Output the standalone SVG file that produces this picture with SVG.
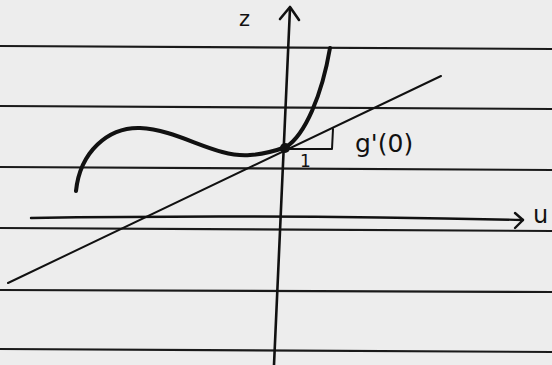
<svg xmlns="http://www.w3.org/2000/svg" width="552" height="365" viewBox="0 0 552 365">
<style>
.rule{stroke:#1a1a1a;stroke-width:2.2;fill:none}
.ink{stroke:#111;fill:none;stroke-linecap:round;stroke-linejoin:round}
.lbl{font-family:"DejaVu Sans","Liberation Sans",sans-serif;fill:#111}
</style>
<rect width="552" height="365" fill="#ededed"/>
<g id="paper-lines">
<path class="rule" d="M0,46 L552,49"/>
<path class="rule" d="M0,106 L552,109"/>
<path class="rule" d="M0,167 L552,170"/>
<path class="rule" d="M0,228 L552,231"/>
<path class="rule" d="M0,290 L552,292"/>
<path class="rule" d="M0,349 L552,352"/>
</g>
<g id="axes">
<path class="ink" stroke-width="2.6" d="M290,8 L274,365"/>
<path class="ink" stroke-width="2.6" d="M280,19 L290,7 L299,20"/>
<path class="ink" stroke-width="2.4" d="M31,218 C150,216 300,215 523,220"/>
<path class="ink" stroke-width="2.4" d="M515,213 L523,220 L515,228"/>
</g>
<g id="tangent">
<path class="ink" stroke-width="2" d="M8,283 L441,76"/>
<path class="ink" stroke-width="2" d="M286,149 L332,149 L333,129"/>
</g>
<g id="curve">
<path class="ink" stroke-width="4" d="M76,191 C80,152 108,127 140,128 C180,130 215,158 250,155 C265,154 275,151 286,147 C305,135 322,95 330,48"/>
<circle cx="285" cy="148" r="5" fill="#111"/>
</g>
<g id="labels">
<text class="lbl" x="239" y="26" font-size="21">z</text>
<text class="lbl" x="533" y="223" font-size="24">u</text>
<text class="lbl" x="355" y="152" font-size="25">g'(0)</text>
<text class="lbl" x="300" y="167" font-size="17">1</text>
</g>
</svg>
